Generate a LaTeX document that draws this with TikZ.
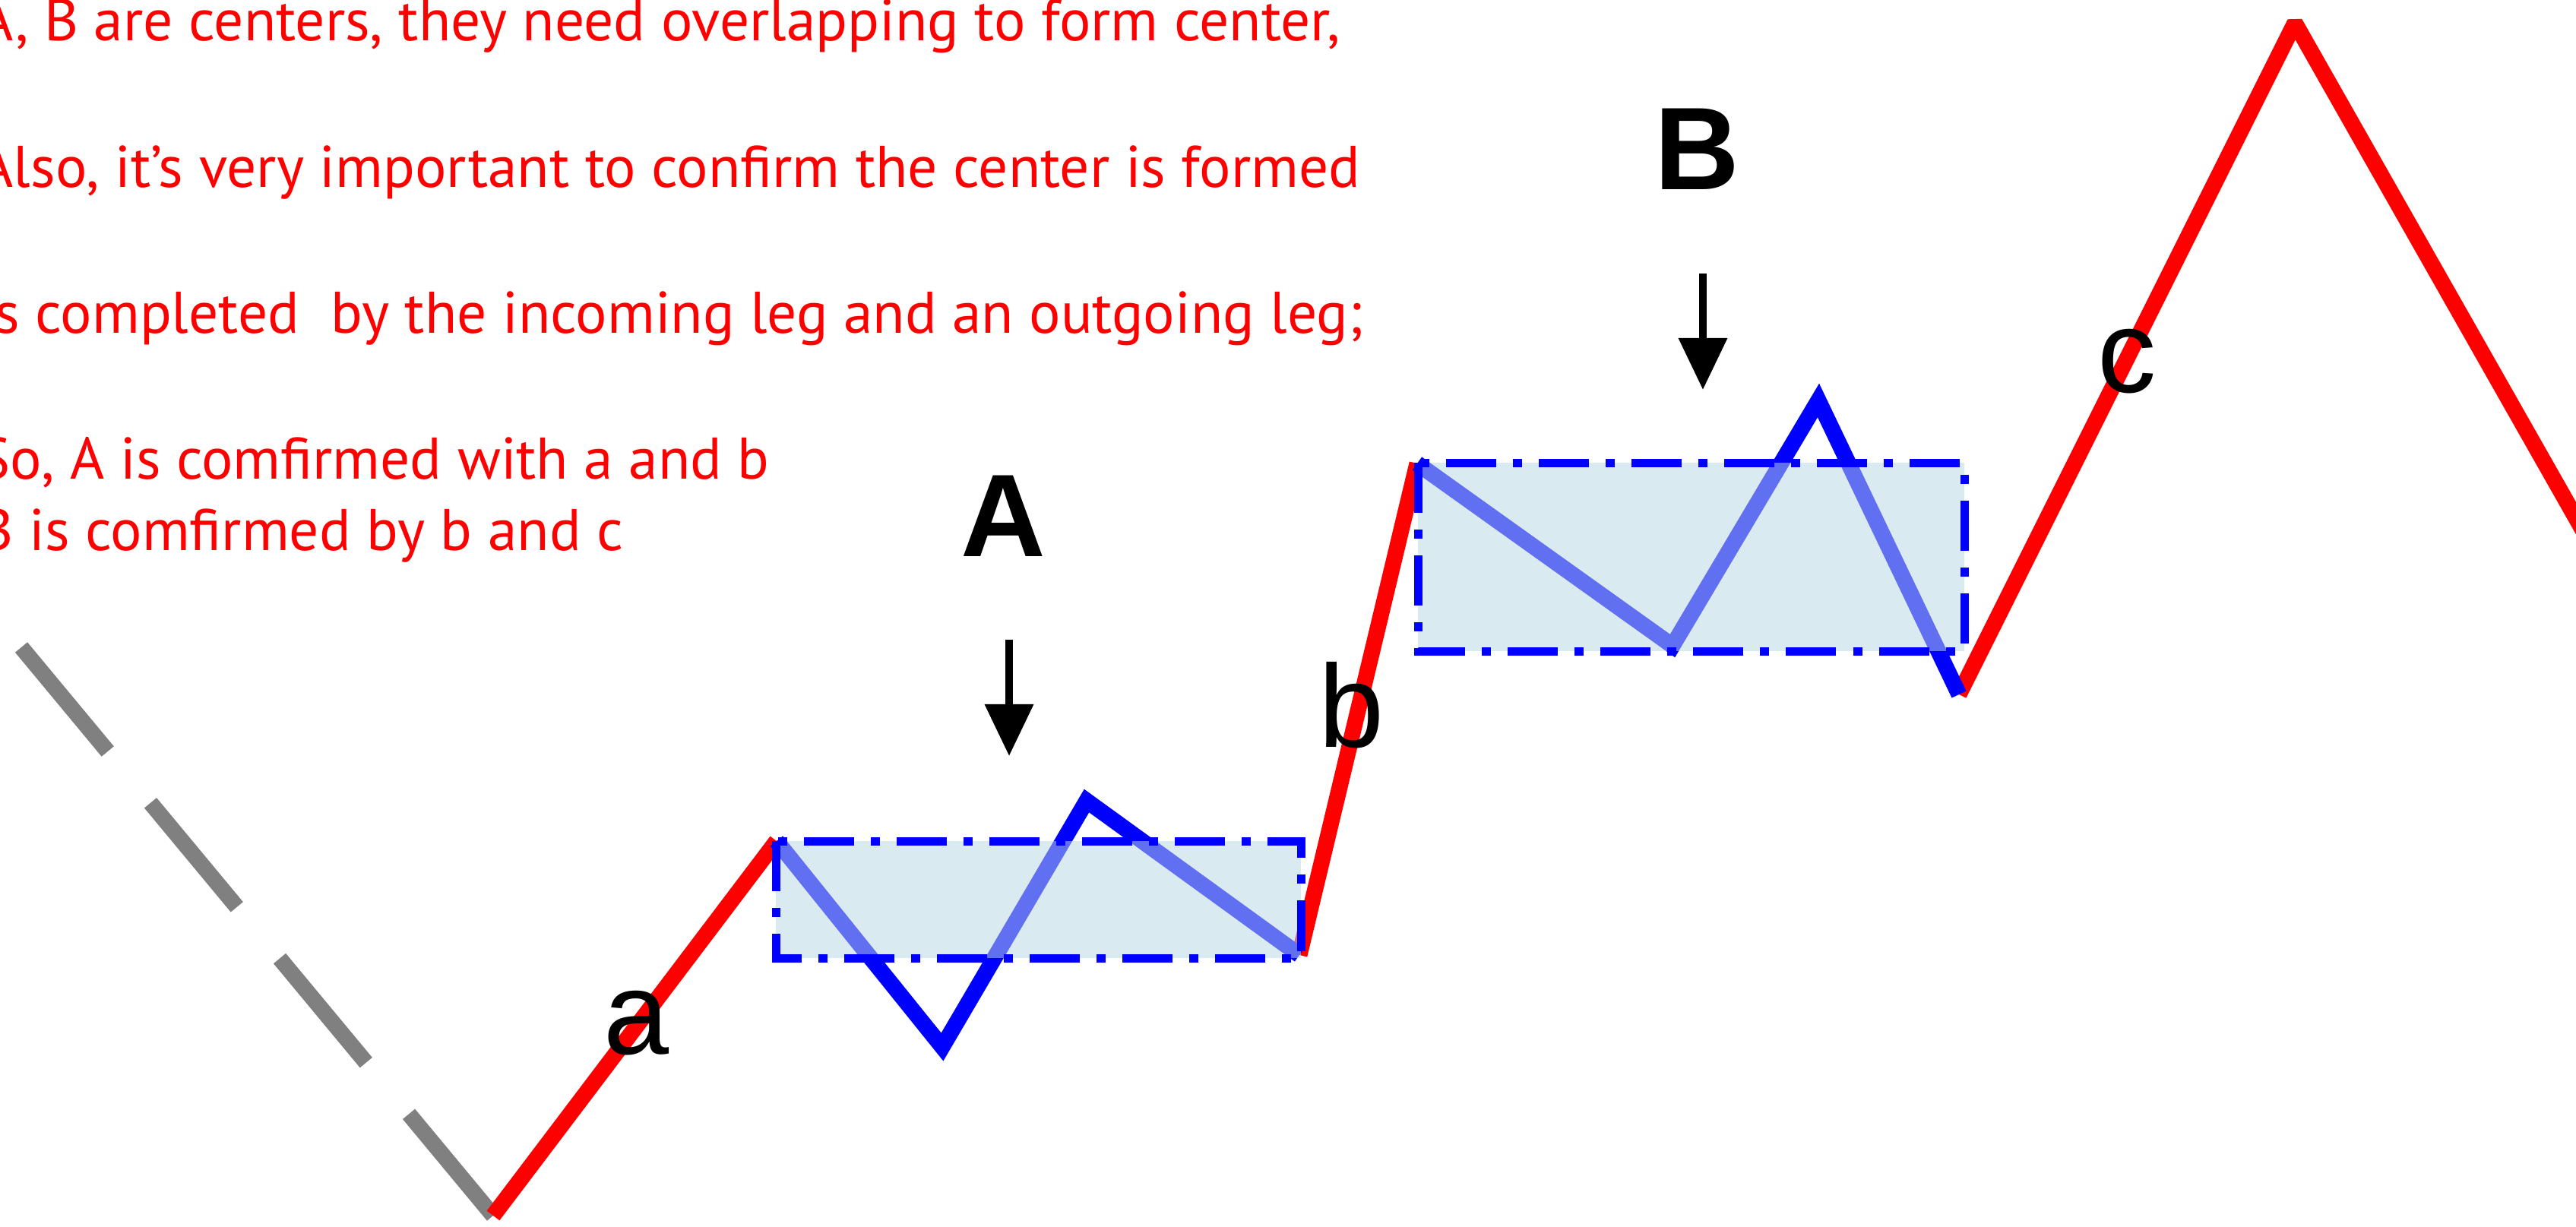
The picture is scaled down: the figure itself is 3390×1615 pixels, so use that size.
\documentclass[tikz,border=0pt]{standalone}
\usepackage{fontspec}
\usetikzlibrary{arrows.meta}
\newfontfamily\notefont{PT Sans}
\newfontfamily\tagfont{Liberation Sans}
\definecolor{ctrFill}{RGB}{185,215,228}
\definecolor{trailGray}{RGB}{128,128,128}

\begin{document}
\begin{tikzpicture}[x=0.01cm, y=-0.01cm,
  trail/.style={trailGray, line width=0.21cm, dash pattern=on 1.78cm off 0.88cm},
  leg/.style={red, line width=0.21cm, line join=bevel},
  zig/.style={blue, line width=0.21cm},
  ctr/.style={draw=blue, line width=0.11cm, dash pattern=on 0.66cm off 0.22cm on 0.12cm off 0.22cm, fill=ctrFill, fill opacity=0.52},
  tag/.style={font=\tagfont\fontsize{44}{50}\selectfont, inner sep=0pt},
  arr/.style={-{Triangle[length=0.68cm, width=0.62cm]}, line width=0.1cm},
  note/.style={font=\notefont\fontsize{22}{27}\selectfont, text=red, anchor=base west, inner sep=0pt}]
\useasboundingbox (0,0) rectangle (3390,1615);
\clip (0,0) rectangle (3390,1615);

% ── turning points of the swing ──
\coordinate (g0) at (28,852);
\coordinate (p0) at (649,1600);
\coordinate (p1) at (1022,1107);
\coordinate (p2) at (1710,1257);
\coordinate (p3) at (1865,610);
\coordinate (p4) at (2578,914);
\coordinate (p5) at (3020,30);
\coordinate (p6) at (3420,735);
% inner swings of the two centers
\coordinate (aLo) at (1240,1378);
\coordinate (aHi) at (1430,1054);
\coordinate (bLo) at (2201,850);
\coordinate (bHi) at (2393,527);

\draw[trail] (g0) -- (p0);
\draw[leg] (p0) -- (p1);
\draw[leg] (p2) -- (p3);
\draw[leg] (p4) -- (p5) -- (p6);
\draw[zig] (p1) -- (aLo) -- (aHi) -- (p2);
\draw[zig] (p3) -- (bLo) -- (bHi) -- (p4);

% ── centers A and B ──
\draw[ctr] (1021,1107) rectangle (1712,1261);
\draw[ctr] (1866,609) rectangle (2585,857);

\node[tag, font=\tagfont\bfseries\fontsize{44}{50}\selectfont] (lblA) at (1320,679) {A};
\node[tag, font=\tagfont\bfseries\fontsize{44}{50}\selectfont] (lblB) at (2233,196) {B};
\coordinate (tailA) at (1328,842);
\coordinate (tipA) at (1328,995);
\coordinate (tailB) at (2241,360);
\coordinate (tipB) at (2241,513);
\draw[arr] (tailA) -- (tipA);
\draw[arr] (tailB) -- (tipB);

\node[tag] (lega) at (838,1347) {a};
\node[tag] (legb) at (1779,928) {b};
\node[tag] (legc) at (2799,476) {c};

% ── notes ──
\node[note] (n1) at (-28,54) {A, B are centers, they need overlapping to form center,};
\node[note] (n2) at (-28,246) {Also, it’s very important to confirm the center is formed};
\node[note] (n3) at (-28,438) {is completed\ \ by the incoming leg and an outgoing leg;};
\node[note] (n4) at (-28,630) {So, A is comfirmed with a and b};
\node[note] (n5) at (-28,724) {B is comfirmed by b and c};
\end{tikzpicture}
\end{document}
